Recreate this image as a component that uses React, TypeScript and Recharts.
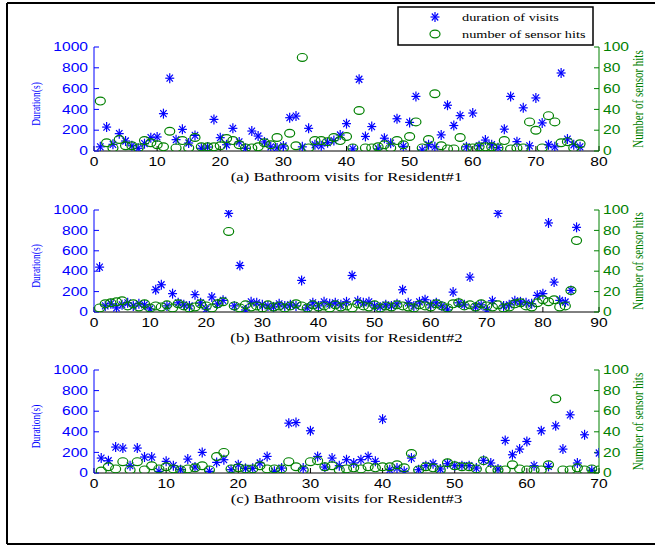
import React from 'react';
import { ScatterChart, Scatter, XAxis, YAxis } from 'recharts';

// ---------- data (visit index starts at 1) ----------
const r1Duration = [40, 230, 64, 167, 96, 50, 26, 70, 128, 135, 359, 700, 109, 208, 77, 150, 26, 38, 304, 128,
  60, 218, 87, 26, 192, 144, 87, 40, 30, 48, 320, 336, 40, 218, 60, 50, 80, 100, 154, 263,
  20, 690, 140, 235, 20, 123, 75, 310, 45, 275, 525, 10, 60, 40, 155, 440, 245, 340, 40, 365,
  50, 105, 60, 32, 210, 525, 90, 415, 50, 510, 270, 60, 40, 750, 115, 60, 40];
const r1Hits = [48, 8, 3, 11, 5, 5, 3, 10, 8, 6, 4, 19, 3, 10, 3, 13, 4, 4, 4, 5,
  12, 10, 6, 3, 3, 4, 8, 6, 13, 3, 17, 5, 90, 3, 10, 10, 9, 13, 10, 14,
  3, 39, 3, 3, 4, 6, 3, 10, 6, 14, 28, 3, 11, 55, 5, 2, 2, 13, 3, 3,
  4, 4, 4, 3, 10, 2, 3, 3, 28, 20, 3, 34, 28, 8, 9, 3, 7];

const r2Duration = [440, 60, 80, 40, 70, 90, 60, 80, 70, 30, 218, 267, 60, 180, 90, 70, 60, 170, 90, 30,
  147, 80, 114, 967, 60, 456, 20, 100, 90, 70, 60, 50, 80, 60, 70, 60, 310, 40, 90, 60,
  100, 80, 90, 70, 100, 358, 110, 90, 100, 60, 50, 70, 60, 80, 218, 90, 60, 100, 120, 70,
  90, 60, 20, 195, 90, 70, 342, 50, 70, 20, 110, 967, 60, 70, 110, 100, 90, 80, 163, 180,
  873, 293, 114, 98, 212, 830];
const r2Hits = [4, 8, 9, 10, 11, 6, 8, 5, 8, 4, 6, 5, 7, 4, 8, 6, 4, 5, 8, 6,
  4, 8, 10, 79, 6, 4, 7, 5, 6, 4, 7, 5, 6, 4, 6, 8, 6, 4, 7, 5,
  6, 4, 7, 5, 6, 4, 8, 6, 5, 7, 4, 6, 5, 7, 6, 5, 4, 7, 6, 5,
  8, 6, 4, 8, 9, 6, 7, 5, 8, 6, 5, 7, 4, 5, 8, 9, 6, 5, 9, 12,
  10, 12, 5, 6, 21, 70];

const r3Duration = [145, 119, 252, 242, 71, 242, 155, 155, 16, 113, 71, 32, 135, 58, 200, 16, 103, 129, 32, 81,
  45, 45, 97, 161, 16, 48, 484, 490, 48, 410, 161, 58, 145, 71, 129, 97, 129, 161, 113, 523,
  32, 48, 16, 145, 32, 71, 90, 39, 90, 71, 71, 71, 48, 123, 97, 39, 316, 177, 232, 306,
  71, 410, 64, 458, 232, 565, 97, 371, 26, 194];
const r3Hits = [2, 6, 4, 11, 3, 11, 3, 7, 4, 6, 4, 3, 4, 5, 7, 3, 16, 20, 4, 5,
  4, 4, 7, 4, 4, 4, 11, 6, 3, 11, 12, 6, 7, 3, 4, 5, 4, 6, 5, 6,
  6, 8, 5, 19, 3, 6, 5, 3, 10, 7, 6, 6, 4, 12, 3, 3, 3, 8, 4, 3,
  3, 3, 8, 72, 3, 3, 5, 3, 4, 3];

const durationTicks = [0, 200, 400, 600, 800, 1000];
const hitTicks = [0, 20, 40, 60, 80, 100];
const r1XTicks = [0, 10, 20, 30, 40, 50, 60, 70, 80];
const r2XTicks = [0, 10, 20, 30, 40, 50, 60, 70, 80, 90];
const r3XTicks = [0, 10, 20, 30, 40, 50, 60, 70];

const captions = ['(a) Bathroom visits for Resident#1', '(b) Bathroom visits for Resident#2', '(c) Bathroom visits for Resident#3'];
const legendLabels = ['duration of visits', 'number of sensor hits'];

// ---------- styles ----------
const BLUE = '#0000ff';
const GREEN = '#008000';
const SANS = '"Liberation Sans", Arial, sans-serif';
const SERIF = '"Liberation Serif", "Times New Roman", serif';
const SX = 1.3;

const Star = (props: any) => {
  const { cx, cy } = props;
  if (cx == null || cy == null) return <g />;
  return (
    <g stroke={BLUE} strokeWidth={1.2}>
      <line x1={cx - 4.5} y1={cy} x2={cx + 4.5} y2={cy} />
      <line x1={cx} y1={cy - 5} x2={cx} y2={cy + 5} />
      <line x1={cx - 3.2} y1={cy - 3.5} x2={cx + 3.2} y2={cy + 3.5} />
      <line x1={cx - 3.2} y1={cy + 3.5} x2={cx + 3.2} y2={cy - 3.5} />
    </g>
  );
};

const Ring = (props: any) => {
  const { cx, cy } = props;
  if (cx == null || cy == null) return <g />;
  return <ellipse cx={cx} cy={cy} rx={5} ry={3.9} fill="none" stroke={GREEN} strokeWidth={1.2} />;
};

const makeTick = (fill: string, dy: string) => (props: any) => {
  const { x, y, payload, textAnchor } = props;
  return (
    <text
      transform={`translate(${x},${y}) scale(${SX},1)`}
      textAnchor={textAnchor}
      fill={fill}
      fontFamily={SANS}
      fontSize={12}
      dy={dy}
    >
      {payload.value}
    </text>
  );
};
const BottomTick = makeTick('#000', '0.71em');
const LeftTick = makeTick(BLUE, '0.355em');
const RightTick = makeTick(GREEN, '0.355em');
const NoTick = () => <g />;

const PLOT_LEFT = 94;
const PLOT_RIGHT = 599;
const W = 655;
const RIGHT_W = 40;

type PanelProps = {
  top: number;
  bottom: number;
  xMax: number;
  xTicks: number[];
  durations: number[];
  hits: number[];
};

const Panel = ({ top, bottom, xMax, xTicks, durations, hits }: PanelProps) => {
  const mTop = 10;
  const xH = 30;
  const h = bottom - top + mTop + xH;
  const dData = durations.map((d, k) => ({ i: k + 1, v: d }));
  const hData = hits.map((v, k) => ({ i: k + 1, v }));
  return (
    <div style={{ position: 'absolute', left: 0, top: top - mTop, width: W, height: h }}>
      <ScatterChart
        width={W}
        height={h}
        margin={{ top: mTop, right: W - PLOT_RIGHT - RIGHT_W, left: 0, bottom: 0 }}
      >
        <XAxis
          xAxisId="b"
          type="number"
          dataKey="i"
          domain={[0, xMax]}
          ticks={xTicks}
          interval={0}
          allowDataOverflow
          orientation="bottom"
          height={xH}
          tickSize={-5}
          tickMargin={11}
          stroke="#000"
          tick={BottomTick}
        />
        <XAxis
          xAxisId="t"
          type="number"
          dataKey="i"
          domain={[0, xMax]}
          ticks={xTicks}
          interval={0}
          allowDataOverflow
          orientation="top"
          height={0}
          tickSize={-5}
          stroke="#000"
          tick={NoTick}
        />
        <YAxis
          yAxisId="l"
          type="number"
          dataKey="v"
          domain={[0, 1000]}
          ticks={durationTicks}
          interval={0}
          allowDataOverflow
          orientation="left"
          width={PLOT_LEFT}
          tickSize={-5}
          tickMargin={11}
          stroke={BLUE}
          tick={LeftTick}
        />
        <YAxis
          yAxisId="r"
          type="number"
          dataKey="v"
          domain={[0, 100]}
          ticks={hitTicks}
          interval={0}
          allowDataOverflow
          orientation="right"
          width={RIGHT_W}
          tickSize={-5}
          tickMargin={9}
          stroke={GREEN}
          tick={RightTick}
        />
        <Scatter xAxisId="b" yAxisId="l" data={dData} dataKey="v" shape={Star} isAnimationActive={false} />
        <Scatter xAxisId="b" yAxisId="r" data={hData} dataKey="v" shape={Ring} isAnimationActive={false} />
      </ScatterChart>
    </div>
  );
};

const panels = [
  { top: 47, bottom: 151, xMax: 80, xTicks: r1XTicks, durations: r1Duration, hits: r1Hits },
  { top: 210, bottom: 312, xMax: 90, xTicks: r2XTicks, durations: r2Duration, hits: r2Hits },
  { top: 370, bottom: 473, xMax: 70, xTicks: r3XTicks, durations: r3Duration, hits: r3Hits },
];

export default function App() {
  return (
    <div style={{ position: 'absolute', left: 0, top: 0, width: W, height: 547, overflow: 'hidden', background: '#fff' }}>
      {panels.map((p, k) => (
        <Panel key={k} {...p} />
      ))}
      <svg width={W} height={547} style={{ position: 'absolute', left: 0, top: 0, pointerEvents: 'none' }}>
        {/* outer frame */}
        <line x1={7} y1={3} x2={W} y2={3} stroke="#000" strokeWidth={2} />
        <line x1={7} y1={3} x2={7} y2={544} stroke="#000" strokeWidth={2} />
        <line x1={7} y1={544} x2={W} y2={544} stroke="#000" strokeWidth={2} />
        {/* legend */}
        <rect x={398} y={7} width={195} height={38} fill="#fff" stroke="#000" strokeWidth={1.5} />
        <Star cx={435} cy={17} />
        <Ring cx={435} cy={34} />
        <text transform={`translate(462,21) scale(1.3,1)`} fontFamily={SERIF} fontSize={11} fill="#000">
          {legendLabels[0]}
        </text>
        <text transform={`translate(462,38) scale(1.3,1)`} fontFamily={SERIF} fontSize={11} fill="#000">
          {legendLabels[1]}
        </text>
        {panels.map((p, k) => {
          const mid = (p.top + p.bottom) / 2;
          return (
            <g key={k}>
              <text
                transform={`translate(${(PLOT_LEFT + PLOT_RIGHT) / 2},${p.bottom + 30}) scale(1.39,1)`}
                textAnchor="middle"
                fontFamily={SERIF}
                fontSize={12}
                fill="#000"
              >
                {captions[k]}
              </text>
              <text
                transform={`translate(40,${mid + 5}) scale(1.3,1) rotate(-90)`}
                textAnchor="middle"
                fontFamily={SERIF}
                fontSize={9.5}
                fill={BLUE}
              >
                Duration(s)
              </text>
              <text
                transform={`translate(643,${mid}) scale(1.3,1) rotate(-90)`}
                textAnchor="middle"
                fontFamily={SERIF}
                fontSize={11}
                fill={GREEN}
              >
                Number of sensor hits
              </text>
            </g>
          );
        })}
      </svg>
    </div>
  );
}
